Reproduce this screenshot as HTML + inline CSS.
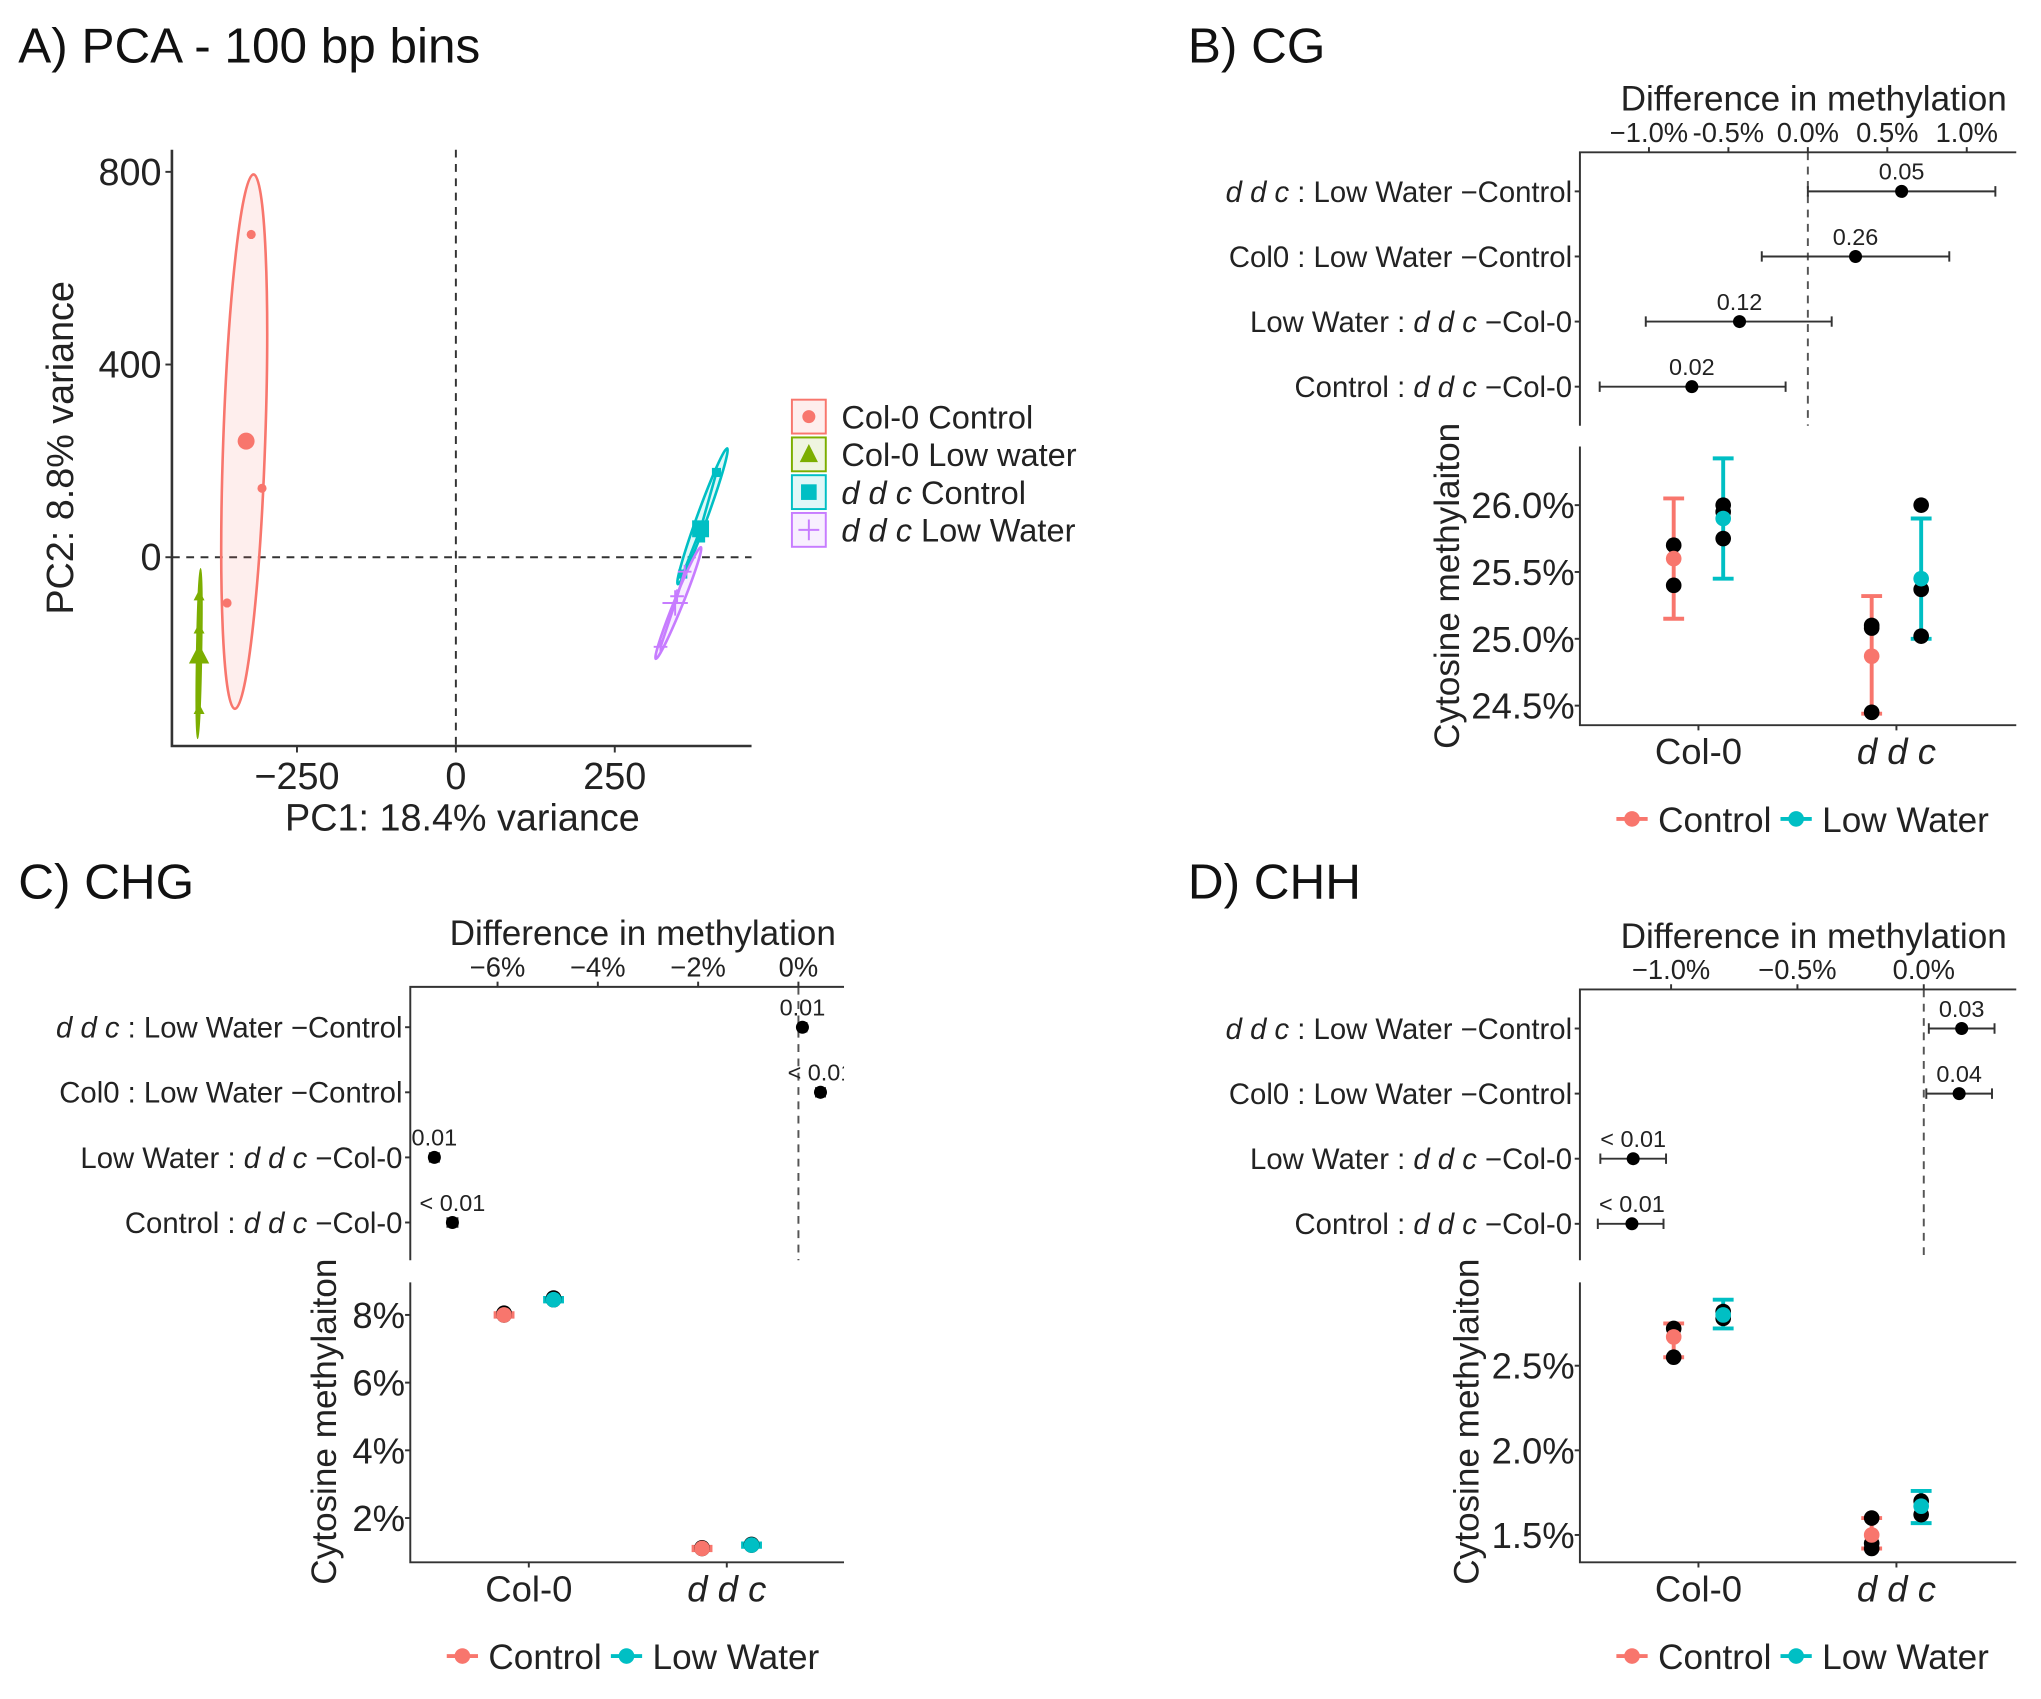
<!DOCTYPE html>
<html><head><meta charset="utf-8"><style>
html,body{margin:0;padding:0;background:#fff;}
svg{display:block;font-family:"Liberation Sans","DejaVu Sans",sans-serif;}
</style></head><body>
<svg id="fig" width="2041" height="1699" viewBox="0 0 1567 1305" preserveAspectRatio="none" xmlns="http://www.w3.org/2000/svg">
<rect width="1570" height="1310" fill="#fff"/>
</svg>
<script>
// ---------- Panel A data (PCA) ----------
const pcaGroups = ["Col-0 Control","Col-0 Low water","ddc Control","ddc Low Water"];
const pcaColors = ["#F8766D","#7CAE00","#00BFC4","#C77CFF"];
const pcaPC1 = [[-322,-305,-360],[-404,-404,-404],[410,357,385],[348,322,360]];
const pcaPC2 = [[670,143,-95],[-149,-316,-80],[176,-35,40],[-81,-186,-30]];
const pcaMeanPC1 = [-330,-404,385,345];
const pcaMeanPC2 = [241,-203,59,-95];
const pcaEllCx = [-333,-404,388,350];
const pcaEllCy = [240,-200,85,-95];
const pcaEllRx = [33,3,8,7];
const pcaEllRy = [555,175,150,125];
const pcaEllRot = [2,1,20,22];
const pcaXTicks = [-250,0,250];
const pcaYTicks = [0,400,800];

// ---------- Panel B data ----------
const contrastRows = ["ddc : Low Water – Control","Col0 : Low Water – Control","Low Water : ddc – Col-0","Control : ddc – Col-0"];
const cgDiff = [0.59,0.30,-0.43,-0.73];
const cgLo = [0.0,-0.29,-1.02,-1.31];
const cgHi = [1.18,0.89,0.15,-0.14];
const cgP = ["0.05","0.26","0.12","0.02"];
const cgDiffTicks = [-1.0,-0.5,0.0,0.5,1.0];
const cgDiffTickLabels = ["\u22121.0%","-0.5%","0.0%","0.5%","1.0%"];
const genotypes = ["Col-0","ddc"];
const cgMean = [[25.6,25.9],[24.87,25.45]];
const cgCiLo = [[25.15,25.45],[24.44,25.0]];
const cgCiHi = [[26.05,26.35],[25.32,25.9]];
const cgReps = [[[25.7,25.4],[26.0,25.95,25.75]],[[25.1,25.08,24.45],[26.0,25.37,25.02]]];
const cgYTicks = [24.5,25.0,25.5,26.0];

// ---------- Panel C data ----------
const chgDiff = [0.08,0.44,-7.26,-6.9];
const chgLo = [0.0,0.35,-7.35,-7.0];
const chgHi = [0.16,0.53,-7.17,-6.8];
const chgP = ["0.01","< 0.01","0.01","< 0.01"];
const chgDiffTicks = [-6,-4,-2,0];
const chgDiffTickLabels = ["\u22126%","\u22124%","\u22122%","0%"];
const chgMean = [[8.0,8.45],[1.1,1.2]];
const chgCiLo = [[7.95,8.4],[1.05,1.15]];
const chgCiHi = [[8.05,8.5],[1.15,1.25]];
const chgReps = [[[8.0,8.05],[8.45,8.5]],[[1.1,1.12],[1.2,1.22]]];
const chgYTicks = [2,4,6,8];

// ---------- Panel D data ----------
const chhDiff = [0.15,0.14,-1.15,-1.155];
const chhLo = [0.02,0.01,-1.28,-1.29];
const chhHi = [0.28,0.27,-1.02,-1.03];
const chhP = ["0.03","0.04","< 0.01","< 0.01"];
const chhDiffTicks = [-1.0,-0.5,0.0];
const chhDiffTickLabels = ["\u22121.0%","\u22120.5%","0.0%"];
const chhMean = [[2.67,2.8],[1.5,1.67]];
const chhCiLo = [[2.55,2.72],[1.42,1.57]];
const chhCiHi = [[2.75,2.89],[1.6,1.76]];
const chhReps = [[[2.72,2.55],[2.82,2.78]],[[1.6,1.45,1.42],[1.7,1.62]]];
const chhYTicks = [1.5,2.0,2.5];

const NS="http://www.w3.org/2000/svg";
const svg=document.getElementById('fig');
function mk(tag,attrs,parent){const e=document.createElementNS(NS,tag);for(const k in attrs)e.setAttribute(k,attrs[k]);(parent||svg).appendChild(e);return e;}
function txt(s,attrs,parent){const e=mk('text',attrs,parent);e.textContent=s;return e;}
function lin(a,b){return v=>a[1]+(v-a[0])*(b[1]-a[1])/(b[0]-a[0]);}
const AX="#333";

// ---------- Panel titles ----------
[["A) PCA - 100 bp bins",14,48],["B) CG",912,48],["C) CHG",14,690],["D) CHH",912,690]].forEach(t=>{
  const e=txt(t[0],{x:t[1],y:t[2],'font-size':38,fill:'#111'});
  
  
});

// ---------- Panel A ----------
(function(){
  const g=mk('g',{});
  
  
  const X=lin([0,350],[250,472]), Y=lin([0,428],[400,280]);
  const L=132,R=577,T=115,B=573;
  mk('line',{x1:X(0),x2:X(0),y1:T,y2:B,stroke:'#333','stroke-dasharray':'6,5','stroke-width':1.5},g);
  mk('line',{x1:L,x2:R,y1:Y(0),y2:Y(0),stroke:'#333','stroke-dasharray':'6,5','stroke-width':1.5},g);
  for(let i=0;i<pcaGroups.length;i++){
    const c=pcaColors[i];
    const cx=X(pcaEllCx[i]),cy=Y(pcaEllCy[i]);
    const rx=X(pcaEllRx[i])-X(0), ry=Y(0)-Y(pcaEllRy[i]);
    const el=mk('ellipse',{cx:cx,cy:cy,rx:rx,ry:ry,fill:c,'fill-opacity':0.12,stroke:c,'stroke-width':2,transform:`rotate(${pcaEllRot[i]} ${cx} ${cy})`},g);
    
    
    const pts=pcaPC1[i].map((v,j)=>[X(v),Y(pcaPC2[i][j])]);
    const mx=X(pcaMeanPC1[i]),my=Y(pcaMeanPC2[i]);
    if(i!==0) pts.forEach(p=>{
      const sl=mk('line',{x1:mx,y1:my,x2:p[0],y2:p[1],stroke:c,'stroke-width':2},g);
      
      
    });
    const shape=(x,y,s)=>{
      if(i===0)return mk('circle',{cx:x,cy:y,r:s,fill:c},g);
      if(i===1)return mk('polygon',{points:`${x},${y-s*1.3} ${x-s*1.2},${y+s} ${x+s*1.2},${y+s}`,fill:c},g);
      if(i===2)return mk('rect',{x:x-s,y:y-s,width:2*s,height:2*s,fill:c},g);
      return mk('path',{d:`M${x-s*1.5},${y}H${x+s*1.5}M${x},${y-s*1.5}V${y+s*1.5}`,stroke:c,'stroke-width':1.5},g);
    };
    pts.forEach(p=>{const s=shape(p[0],p[1],3.5);});
    const m=shape(mx,my,6.5);
    
    
  }
  mk('path',{d:`M${L},${T}V${B}H${R}`,fill:'none',stroke:AX,'stroke-width':2},g);
  pcaXTicks.forEach(v=>{
    mk('line',{x1:X(v),x2:X(v),y1:B,y2:B+5,stroke:AX,'stroke-width':1.5},g);
    const t=txt(v<0?'\u2212'+(-v):String(v),{x:X(v),y:B+33,'text-anchor':'middle','font-size':29,fill:'#222'},g);
    
    
  });
  pcaYTicks.forEach(v=>{
    mk('line',{x1:L-5,x2:L,y1:Y(v),y2:Y(v),stroke:AX,'stroke-width':1.5},g);
    const t=txt(String(v),{x:L-8,y:Y(v)+10,'text-anchor':'end','font-size':29,fill:'#222'},g);
    
    
  });
  const xt=txt('PC1: 18.4% variance',{x:355,y:638,'text-anchor':'middle','font-size':29,fill:'#222'},g);
  
  
  const yt=txt('PC2: 8.8% variance',{x:0,y:0,'text-anchor':'middle','font-size':29,fill:'#222',transform:'translate(56,344) rotate(-90)'},g);
  
  
  // legend
  pcaGroups.forEach((name,i)=>{
    const y=320+i*29,c=pcaColors[i];
    const le=mk('g',{},g);
    
    
    mk('rect',{x:608,y:y-13,width:26,height:26,fill:c,'fill-opacity':0.12,stroke:c,'stroke-width':1.5},le);
    const cx=621;
    if(i===0)mk('circle',{cx:cx,cy:y,r:5,fill:c},le);
    if(i===1)mk('polygon',{points:`${cx},${y-8} ${cx-7},${y+6} ${cx+7},${y+6}`,fill:c},le);
    if(i===2)mk('rect',{x:cx-6,y:y-6,width:12,height:12,fill:c},le);
    if(i===3)mk('path',{d:`M${cx-8},${y}H${cx+8}M${cx},${y-8}V${y+8}`,stroke:c,'stroke-width':1.5},le);
    const t=txt('',{x:646,y:y+9,'font-size':25,fill:'#222'},le);
    if(name.startsWith('ddc')){const ts=mk('tspan',{'font-style':'italic'},t);ts.textContent='d d c';const r=mk('tspan',{},t);r.textContent=name.slice(3);}
    else t.textContent=name;
  });
})();

// ---------- forest plot (difference panel) ----------
function forest(cfg){
  const g=mk('g',{});
  
  
  const X=lin(cfg.xa,cfg.xb);
  const L=cfg.L,R=cfg.R,T=cfg.T,B=cfg.B;
  const rowY=i=>cfg.row0+i*50;
  const ttl=txt('Difference in methylation',{x:(L+R)/2+12,y:T-32,'text-anchor':'middle','font-size':27,fill:'#222'},g);
  
  
  mk('line',{x1:X(0),x2:X(0),y1:T,y2:B,stroke:'#555','stroke-dasharray':'6,5','stroke-width':1.5},g);
  mk('path',{d:`M${R},${T}H${L}V${B}`,fill:'none',stroke:AX,'stroke-width':1.5},g);
  cfg.ticks.forEach((v,j)=>{
    mk('line',{x1:X(v),x2:X(v),y1:T-4,y2:T,stroke:AX,'stroke-width':1.5},g);
    const t=txt(cfg.tickLabels[j],{x:X(v),y:T-8,'text-anchor':'middle','font-size':21,fill:'#222'},g);
    
    
  });
  contrastRows.forEach((lab,i)=>{
    const y=rowY(i);
    mk('line',{x1:L-4,x2:L,y1:y,y2:y,stroke:AX,'stroke-width':1.5},g);
    const t=txt('',{x:L-6,y:y+8,'text-anchor':'end','font-size':22.5,fill:'#222'},g);
    
    
    const parts=lab.split('ddc');
    parts.forEach((p,k)=>{
      if(k>0){const it=mk('tspan',{'font-style':'italic'},t);it.textContent='d d c';}
      const s=mk('tspan',{},t);s.textContent=p.replace(' – ',' \u2212').replace(' : ',' :  ');
    });
    const clip=mk('g',{'clip-path':`url(#clip-${cfg.name})`},g);
    const ci=mk('path',{d:`M${X(cfg.lo[i])},${y}H${X(cfg.hi[i])}M${X(cfg.lo[i])},${y-4}V${y+4}M${X(cfg.hi[i])},${y-4}V${y+4}`,stroke:'#333','stroke-width':1.5},clip);
    
    
    const pt=mk('circle',{cx:X(cfg.diff[i]),cy:y,r:5,fill:'#000'},g);
    
    
    const pl=txt(cfg.p[i],{x:X(cfg.diff[i]),y:y-9,'text-anchor':'middle','font-size':18,fill:'#222'},clip);
    
    
  });
  const cp=mk('clipPath',{id:'clip-'+cfg.name},svg);
  mk('rect',{x:0,y:T-30,width:R,height:B-T+40},cp);
}

// ---------- dot plot (estimated means) ----------
function dots(cfg){
  const g=mk('g',{});
  
  
  const Y=lin(cfg.ya,cfg.yb);
  const L=cfg.L,R=cfg.R,T=cfg.T,B=cfg.B;
  const gx=[L+91,L+243];
  const cols=['#F8766D','#00BFC4'];
  mk('path',{d:`M${L},${T}V${B}H${R}`,fill:'none',stroke:AX,'stroke-width':1.5},g);
  cfg.yticks.forEach(v=>{
    mk('line',{x1:L-4,x2:L,y1:Y(v),y2:Y(v),stroke:AX,'stroke-width':1.5},g);
    const t=txt(v.toFixed(cfg.dec)+'%',{x:L-4,y:Y(v)+10,'text-anchor':'end','font-size':28,fill:'#222'},g);
    
    
  });
  genotypes.forEach((gn,k)=>{
    mk('line',{x1:gx[k],x2:gx[k],y1:B,y2:B+4,stroke:AX,'stroke-width':1.5},g);
    const t=txt(gn==='ddc'?'d d c':gn,{x:gx[k],y:B+30,'text-anchor':'middle','font-size':28,fill:'#222','font-style':gn==='ddc'?'italic':'normal'},g);
    
    
    [0,1].forEach(s=>{
      const x=gx[k]+(s?19:-19),c=cols[s];
      const lo=Y(cfg.lo[k][s]),hi=Y(cfg.hi[k][s]);
      const eb=mk('path',{d:`M${x},${lo}V${hi}M${x-8},${lo}H${x+8}M${x-8},${hi}H${x+8}`,stroke:c,'stroke-width':3,fill:'none'},g);
      
      
      cfg.reps[k][s].forEach(v=>{
        const r=mk('circle',{cx:x,cy:Y(v),r:6,fill:'#000'},g);
        
        
      });
      const m=mk('circle',{cx:x,cy:Y(cfg.mean[k][s]),r:6,fill:c},g);
      
      
    });
  });
  const yt=txt('Cytosine methylaiton',{x:0,y:0,'text-anchor':'middle','font-size':27,fill:'#222',transform:`translate(${cfg.ytx},${cfg.yty}) rotate(-90)`},g);
  
  
  const ly=B+72;
  const lg=mk('g',{},g);
  
  
  [['Control',L+40],['Low Water',L+166]].forEach((e,i)=>{
    const c=cols[i];
    mk('path',{d:`M${e[1]-12},${ly}H${e[1]+12}`,stroke:c,'stroke-width':3},lg);
    mk('circle',{cx:e[1],cy:ly,r:6,fill:c},lg);
    const t=txt(e[0],{x:e[1]+20,y:ly+10,'font-size':27,fill:'#222'},lg);
    
    
  });
}

forest({name:'cg',xa:[0,1388],xb:[0.5,1449],L:1213,R:1548,T:117,B:327,row0:147,ticks:cgDiffTicks,tickLabels:cgDiffTickLabels,diff:cgDiff,lo:cgLo,hi:cgHi,p:cgP});
dots({name:'cg',ya:[26.0,388],yb:[24.5,542],L:1213,R:1548,T:343,B:557,yticks:cgYTicks,dec:1,mean:cgMean,lo:cgCiLo,hi:cgCiHi,reps:cgReps,ytx:1120,yty:450});

forest({name:'chg',xa:[0,613],xb:[-6,382],L:315,R:648,T:758,B:968,row0:789,ticks:chgDiffTicks,tickLabels:chgDiffTickLabels,diff:chgDiff,lo:chgLo,hi:chgHi,p:chgP});
dots({name:'chg',ya:[8,1010],yb:[2,1166],L:315,R:648,T:985,B:1200,yticks:chgYTicks,dec:0,mean:chgMean,lo:chgCiLo,hi:chgCiHi,reps:chgReps,ytx:258,yty:1092});

forest({name:'chh',xa:[0,1477],xb:[-1,1283],L:1213,R:1548,T:760,B:968,row0:790,ticks:chhDiffTicks,tickLabels:chhDiffTickLabels,diff:chhDiff,lo:chhLo,hi:chhHi,p:chhP});
dots({name:'chh',ya:[2.5,1049],yb:[1.5,1179],L:1213,R:1548,T:985,B:1200,yticks:chhYTicks,dec:1,mean:chhMean,lo:chhCiLo,hi:chhCiHi,reps:chhReps,ytx:1135,yty:1092});
</script>
</body></html>
